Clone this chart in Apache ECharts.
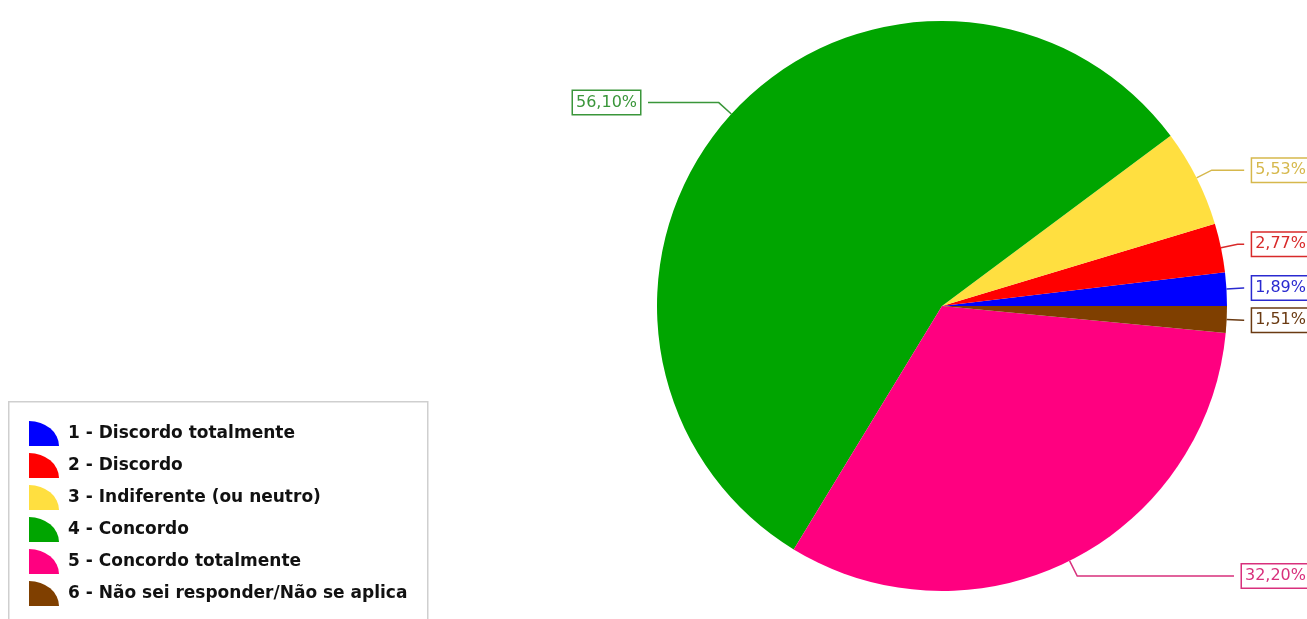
<!DOCTYPE html>
<html><head><meta charset="utf-8">
<script src="https://cdn.jsdelivr.net/npm/echarts@6/dist/echarts.min.js"></script>
<style>html,body{margin:0;padding:0;background:#fff;overflow:hidden;width:1307px;height:619px}#c{width:1330px;height:619px}</style>
</head><body><div id="c"></div>
<script>
const categories = ['1 - Discordo totalmente','2 - Discordo','3 - Indiferente (ou neutro)','4 - Concordo','5 - Concordo totalmente','6 - Não sei responder/Não se aplica'];
const values = [1.89, 2.77, 5.53, 56.10, 32.20, 1.51];
const sliceColors = ['#0000ff','#ff0000','#ffdf40','#00a500','#ff0080','#7f3f00'];
const labelColors = ['#2a2ad0','#d82a2a','#d6b84c','#3a963a','#d8307c','#6a3a12'];

const chart = echarts.init(document.getElementById('c'), null, {renderer:'canvas'});
const data = categories.map((n,i)=>({
  name:n, value:values[i],
  itemStyle:{color:sliceColors[i]},
  label:{color:labelColors[i], borderColor:labelColors[i]},
  labelLine:{lineStyle:{color:labelColors[i]}}
}));
chart.setOption({
  animation:false,
  graphic:[{type:'rect', left:8, top:401, shape:{width:419, height:240}, style:{fill:'#fff', stroke:'#cfcfcf', lineWidth:1.5}, z:-1}],
  legend:{
    orient:'vertical', left:29, top:421, padding:0, itemWidth:30, itemHeight:25, itemGap:7,
    icon:'path://M0,0 A30,25 0 0 1 30,25 L0,25 Z',
    textStyle:{fontFamily:'DejaVu Sans', fontWeight:'bold', fontSize:17, color:'#111', padding:[0,0,0,4]},
    data:categories
  },
  series:[{
    type:'pie', left:565, width:752, top:0, height:619,
    center:[377,306], radius:285, startAngle:0, clockwise:false,
    data:data,
    label:{
      position:'outer', alignTo:'edge', edgeDistance:8,
      formatter:p=>p.value.toFixed(2).replace('.',',')+'%',
      fontFamily:'DejaVu Sans', fontSize:16,
      backgroundColor:'#fff', borderWidth:1.5, padding:[4,3,3,3]
    },
    labelLine:{length:17, length2:0, distanceToLabelLine:0, lineStyle:{width:1.5}},
    emphasis:{disabled:true}
  }]
});
</script></body></html>
